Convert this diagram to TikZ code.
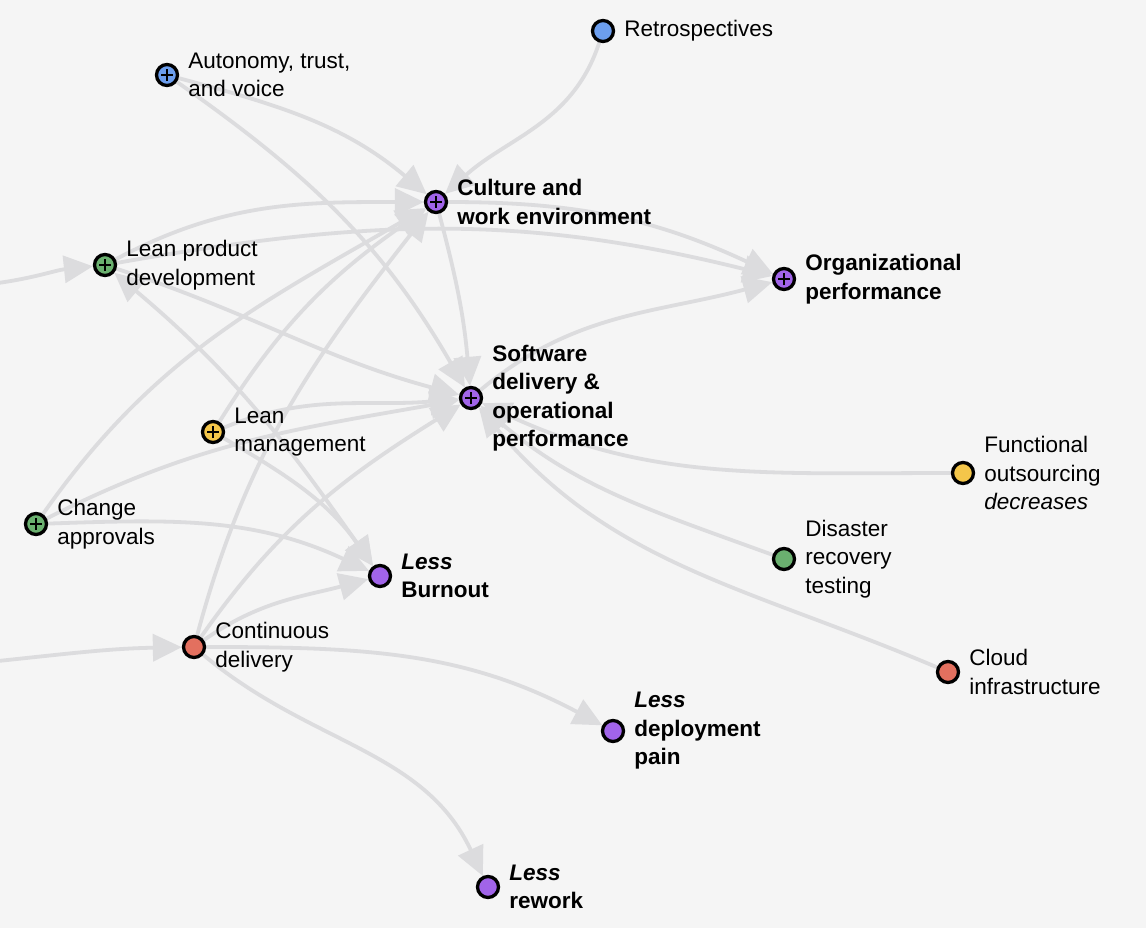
\documentclass[tikz,border=0pt]{standalone}
\usepackage{fontspec}
\setmainfont{Liberation Sans}
\usetikzlibrary{arrows.meta,positioning}

\definecolor{bggray}{HTML}{F5F5F5}
\definecolor{linkgray}{HTML}{DCDCDE}
\definecolor{dotpurple}{HTML}{A164E9}
\definecolor{dotblue}{HTML}{6C9EEE}
\definecolor{dotgreen}{HTML}{6AB06F}
\definecolor{dotyellow}{HTML}{F4C64A}
\definecolor{dotred}{HTML}{E3705F}

\pgfdeclarelayer{bglayer}
\pgfdeclarelayer{linklayer}
\pgfsetlayers{bglayer,linklayer,main}

\begin{document}
\begin{tikzpicture}[x=1pt, y=1pt, >={Triangle[length=29pt, width=27pt]},
        factor_node/.style={circle, draw=black, line width=3.3pt, minimum size=21pt, inner sep=0pt},
        plus_mark/.style={path picture={
            \draw[black, line width=2.8pt]
                ([xshift=-6pt]path picture bounding box.center) -- ([xshift=6pt]path picture bounding box.center)
                ([yshift=-6pt]path picture bounding box.center) -- ([yshift=6pt]path picture bounding box.center);}},
        label_node/.style={font=\fontsize{22.5}{28.5}\selectfont, align=left, inner sep=0pt},
        main_node/.style={font=\fontsize{22.5}{28.5}\selectfont\bfseries, align=left, inner sep=0pt},
        link/.style={draw=linkgray, line width=3.8pt, ->}
    ]

    % --- Sfondo ---
    \begin{pgfonlayer}{bglayer}
        \fill[bggray] (0,0) rectangle (1146,-928);
    \end{pgfonlayer}
    \useasboundingbox (0,0) rectangle (1146,-928);

    % --- Fattori in alto ---
    \node[factor_node, fill=dotblue] (ret) at (603,-31) {};
    \node[label_node, right=9pt of ret] (ret_t) {Retrospectives};

    \node[factor_node, plus_mark, fill=dotblue] (aut) at (167,-75) {};
    \node[label_node, right=9pt of aut] (aut_t) {Autonomy, trust,\\and voice};

    \node[factor_node, plus_mark, fill=dotgreen] (lpd) at (105,-265) {};
    \node[label_node, right=9pt of lpd] (lpd_t) {Lean product\\development};

    \node[factor_node, plus_mark, fill=dotyellow] (lm) at (213,-432) {};
    \node[label_node, right=9pt of lm] (lm_t) {Lean\\management};

    \node[factor_node, plus_mark, fill=dotgreen] (ca) at (36,-524) {};
    \node[label_node, right=9pt of ca] (ca_t) {Change\\approvals};

    \node[factor_node, fill=dotred] (cd) at (194,-647) {};
    \node[label_node, right=9pt of cd] (cd_t) {Continuous\\delivery};

    % --- Fattori a destra ---
    \node[factor_node, fill=dotyellow] (fo) at (963,-473) {};
    \node[label_node, right=9pt of fo] (fo_t) {Functional\\outsourcing\\\textit{decreases}};

    \node[factor_node, fill=dotgreen] (drt) at (784,-559) {};
    \node[label_node, right=9pt of drt] (drt_t) {Disaster\\recovery\\testing};

    \node[factor_node, fill=dotred] (cloud) at (948,-672) {};
    \node[label_node, right=9pt of cloud] (cloud_t) {Cloud\\infrastructure};

    % --- Costrutti principali ---
    \node[factor_node, plus_mark, fill=dotpurple] (cul) at (436,-202) {};
    \node[main_node, right=9pt of cul] (cul_t) {Culture and\\work environment};

    \node[factor_node, plus_mark, fill=dotpurple] (org) at (784,-279) {};
    \node[main_node, right=9pt of org] (org_t) {Organizational\\performance};

    \node[factor_node, plus_mark, fill=dotpurple] (sdo) at (471,-398) {};
    \node[main_node, right=9pt of sdo] (sdo_t) {Software\\delivery \&\\operational\\performance};

    % --- Esiti ---
    \node[factor_node, fill=dotpurple] (bur) at (380,-576) {};
    \node[main_node, right=9pt of bur] (bur_t) {\textit{Less}\\Burnout};

    \node[factor_node, fill=dotpurple] (dep) at (613,-731) {};
    \node[main_node, right=9pt of dep] (dep_t) {\textit{Less}\\deployment\\pain};

    \node[factor_node, fill=dotpurple] (rew) at (488,-887) {};
    \node[main_node, right=9pt of rew] (rew_t) {\textit{Less}\\rework};

    % --- Ingressi dal bordo ---
    \coordinate (lpd_in) at (-2,-283);
    \coordinate (cd_in) at (-2,-661);

    % --- Collegamenti ---
    \begin{pgfonlayer}{linklayer}
        \draw[link] (lpd_in) to[out=8, in=186] (lpd);
        \draw[link] (cd_in) to[out=6, in=181] (cd);

        \draw[link] (ret) to[out=252, in=42] (cul);
        \draw[link] (aut) to[out=-15, in=140] (cul);
        \draw[link] (aut) to[out=-35, in=120] (sdo);

        \draw[link] (lpd) to[out=28, in=180] (cul);
        \draw[link] (lpd) to[out=10, in=166] (org);
        \draw[link] (lpd) to[out=-18, in=165] (sdo);
        \draw[link, <->] (lpd) to[out=-40, in=125] (bur);

        \draw[link] (cul) to[out=0, in=155] (org);
        \draw[link] (cul) to[out=-75, in=95] (sdo);
        \draw[link] (sdo) to[out=40, in=195] (org);

        \draw[link] (lm) to[out=58, in=215] (cul);
        \draw[link] (lm) to[out=22, in=185] (sdo);
        \draw[link] (lm) to[out=-30, in=125] (bur);

        \draw[link] (ca) to[out=55, in=210] (cul);
        \draw[link] (ca) to[out=27, in=190] (sdo);
        \draw[link] (ca) to[out=2, in=155] (bur);

        \draw[link] (cd) to[out=75, in=232] (cul);
        \draw[link] (cd) to[out=55, in=212] (sdo);
        \draw[link] (cd) to[out=35, in=195] (bur);
        \draw[link] (cd) to[out=0, in=152] (dep);
        \draw[link] (cd) to[out=-40, in=115] (rew);

        \draw[link] (fo) to[out=180, in=-25] (sdo);
        \draw[link] (drt) to[out=160, in=-40] (sdo);
        \draw[link] (cloud) to[out=157, in=-50] (sdo);
    \end{pgfonlayer}

\end{tikzpicture}
\end{document}
